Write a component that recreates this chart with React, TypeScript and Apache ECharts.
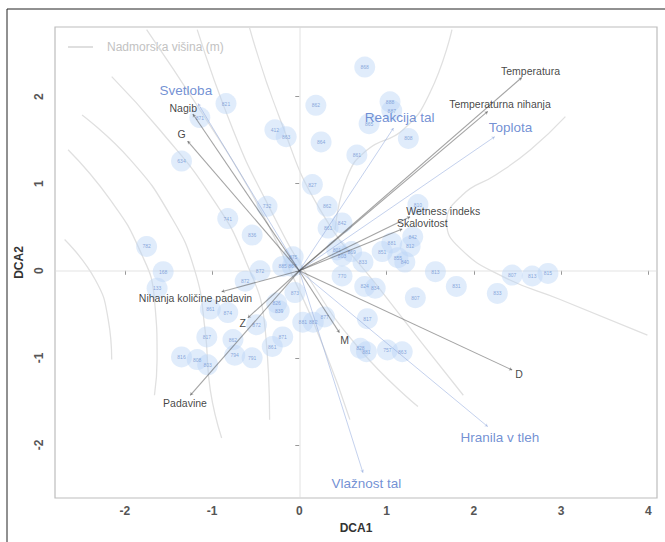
import React, { useEffect, useRef } from "react";
import * as echarts from "echarts";

// Site scores (DCA1, DCA2) and labels
const siteLabels = [
  "821","871","412","863","862","864","634","868","888","887","865","808","861","827","732","741","836","782","168","133",
  "872","875","862","842","861","881","842","812","851","855","840","833","770","813","831","807","807","813","815","833",
  "824","834","817","828","881","757","863","861","874","826","839","872","817","862","871","861","881","882","877","816",
  "808","803","794","791","885","801","803","810","873","867","869","872"
];
const siteX = [
  -0.84,-1.14,-0.28,-0.15,0.19,0.25,-1.35,0.75,1.04,1.06,0.80,1.25,0.66,0.15,-0.37,-0.82,-0.54,-1.75,-1.56,-1.63,
  -0.45,-0.07,0.32,0.49,0.33,1.06,1.30,1.27,0.95,1.13,1.21,0.73,0.49,1.56,1.80,1.33,2.44,2.67,2.85,2.27,
  0.75,0.87,0.78,0.70,0.77,1.01,1.18,-1.02,-0.82,-0.26,-0.23,-0.49,-1.06,-0.76,-0.19,-0.31,0.04,0.16,0.29,-1.35,
  -1.17,-1.05,-0.74,-0.54,-0.19,0.43,0.49,1.36,-0.05,-0.08,0.60,-0.62
];
const siteY = [
  1.92,1.76,1.62,1.54,1.90,1.48,1.26,2.34,1.94,1.84,1.69,1.52,1.33,0.99,0.74,0.60,0.41,0.28,-0.01,-0.20,
  0.00,0.16,0.74,0.55,0.49,0.32,0.39,0.28,0.22,0.15,0.10,0.10,-0.06,-0.01,-0.18,-0.31,-0.05,-0.06,-0.03,-0.26,
  -0.18,-0.20,-0.55,-0.89,-0.93,-0.91,-0.93,-0.44,-0.48,-0.37,-0.46,-0.62,-0.76,-0.79,-0.76,-0.87,-0.59,-0.59,-0.53,-0.99,
  -1.02,-1.08,-0.97,-1.00,0.05,0.24,0.17,0.76,-0.25,0.05,0.22,-0.12
];

// Environmental vectors (black)
const envNames = ["Temperatura","Temperaturna nihanja","Wetness indeks","Skalovitost","Nagib","G","Nihanja količine padavin","Z","Padavine","M","D"];
const envX = [2.55, 2.16, 1.27, 1.18, -1.22, -1.28, -0.89, -0.59, -1.25, 0.46, 2.44];
const envY = [2.22, 1.83, 0.62, 0.48, 1.80, 1.49, -0.24, -0.54, -1.43, -0.71, -1.14];
const envLabelX = [2.65, 2.30, 1.65, 1.41, -1.33, -1.35, -1.19, -0.65, -1.31, 0.52, 2.52];
const envLabelY = [2.30, 1.91, 0.69, 0.55, 1.87, 1.57, -0.31, -0.60, -1.52, -0.79, -1.18];

// Ellenberg indicator vectors (blue)
const ellNames = ["Svetloba","Reakcija tal","Toplota","Hranila v tleh","Vlažnost tal"];
const ellX = [-1.16, 1.08, 2.24, 2.16, 0.73];
const ellY = [1.92, 1.64, 1.54, -1.79, -2.32];
const ellLabelX = [-1.30, 1.15, 2.42, 2.30, 0.77];
const ellLabelY = [2.07, 1.76, 1.64, -1.92, -2.44];

// Elevation isolines (Nadmorska višina)
const contours: number[][][] = [
  [[-2.69,0.36],[-2.34,-0.10],[-2.19,-0.56],[-2.15,-1.02]],
  [[-2.65,1.39],[-2.17,0.82],[-1.83,0.24],[-1.66,-0.33],[-1.63,-1.02],[-1.66,-1.43]],
  [[-2.49,1.79],[-1.94,1.28],[-1.48,0.64],[-1.20,0.01],[-1.08,-0.68],[-1.02,-1.37],[-0.89,-1.92]],
  [[-2.15,2.23],[-1.60,1.62],[-1.02,0.87],[-0.62,0.13],[-0.39,-0.68],[-0.34,-1.71]],
  [[-1.75,2.77],[-1.14,1.85],[-0.57,0.93],[-0.11,0.01],[0.29,-0.91],[0.58,-1.71]],
  [[-1.17,2.77],[-0.76,1.62],[-0.39,0.82],[0.12,-0.10],[0.70,-0.91],[1.36,-1.56]],
  [[-0.57,2.79],[-0.22,1.74],[0.24,0.70],[0.93,-0.22],[1.88,-1.43]],
  [[1.75,2.77],[1.50,2.05],[1.19,1.62],[0.78,1.39],[0.55,1.08],[0.41,0.47]],
  [[3.05,1.77],[2.65,1.39],[2.25,1.10],[1.87,0.87],[1.69,0.56],[1.84,0.26],[2.34,-0.07],[2.99,-0.33],[3.99,-0.74]],
];

const xTicks = [-2, -1, 0, 1, 2, 3, 4];
const yTicks = [-2, -1, 0, 1, 2];
const X_MIN = -2.8, X_MAX = 4.1, Y_MIN = -2.61, Y_MAX = 2.8;

export default function App() {
  const ref = useRef<HTMLDivElement>(null);
  useEffect(() => {
    const chart = echarts.init(ref.current!, null, { renderer: "svg" });
    const font = "Liberation Sans";
    const option: any = {
      animation: false,
      backgroundColor: "#fff",
      textStyle: { fontFamily: font },
      grid: { left: 55, top: 27, right: 8, bottom: 44, show: true, borderColor: "#bdbdbd", borderWidth: 1.2 },
      xAxis: {
        type: "value", min: X_MIN, max: X_MAX,
        name: "DCA1", nameLocation: "middle", nameGap: 24,
        nameTextStyle: { fontSize: 12, fontWeight: "bold", color: "#333", fontFamily: font },
        axisLine: { show: false },
        axisTick: { show: true, length: 4, customValues: xTicks, lineStyle: { color: "#999" } },
        axisLabel: { customValues: xTicks, fontSize: 12, fontWeight: "bold", color: "#555", margin: 7, fontFamily: font },
        splitLine: { show: false },
      },
      yAxis: {
        type: "value", min: Y_MIN, max: Y_MAX,
        name: "DCA2", nameLocation: "middle", nameGap: 28, nameRotate: 90,
        nameTextStyle: { fontSize: 12, fontWeight: "bold", color: "#333", fontFamily: font },
        axisLine: { show: false },
        axisTick: { show: true, length: 4, customValues: yTicks, lineStyle: { color: "#999" } },
        axisLabel: { customValues: yTicks, rotate: 90, fontSize: 12, fontWeight: "bold", color: "#555", margin: 10, fontFamily: font },
        splitLine: { show: false },
      },
      graphic: [
        { type: "rect", shape: { x: 7, y: 9, width: 720, height: 620 }, style: { fill: "none", stroke: "#222", lineWidth: 1 }, silent: true },
        { type: "line", shape: { x1: 68, y1: 47, x2: 93, y2: 47 }, style: { stroke: "#d4d4d4", lineWidth: 1.5 } },
        { type: "text", x: 107, y: 47, style: { text: "Nadmorska višina (m)", fill: "#c2c2c2", fontSize: 12, fontFamily: font, verticalAlign: "middle" } },
      ],
      series: [
        ...contours.map((c) => ({
          type: "line", data: c, smooth: true, symbol: "none", silent: true, z: 1,
          lineStyle: { color: "#e0e0e0", width: 1.3 },
        })),
        {
          type: "lines", coordinateSystem: "cartesian2d", silent: true, z: 1,
          lineStyle: { color: "#dcdcdc", width: 1.6 },
          data: [
            { coords: [[X_MIN, 0], [X_MAX, 0]] },
            { coords: [[0, Y_MIN], [0, Y_MAX]] },
          ],
        },
        {
          type: "scatter", z: 3, symbolSize: 21,
          itemStyle: { color: "rgba(185,212,245,0.55)" },
          label: { show: true, position: "inside", fontSize: 5, color: "#6f93d2", formatter: (p: any) => p.name },
          data: siteX.map((x, i) => ({ name: siteLabels[i], value: [x, siteY[i]] })),
        },
        {
          type: "lines", coordinateSystem: "cartesian2d", z: 4, silent: true,
          symbol: ["none", "arrow"], symbolSize: 3,
          lineStyle: { color: "#8aa3dc", width: 1 },
          data: ellX.map((x, i) => ({ coords: [[0, 0], [x, ellY[i]]] })),
        },
        {
          type: "lines", coordinateSystem: "cartesian2d", z: 5, silent: true,
          symbol: ["none", "arrow"], symbolSize: 3,
          lineStyle: { color: "#4a4a4a", width: 1.1 },
          data: envX.map((x, i) => ({ coords: [[0, 0], [x, envY[i]]] })),
        },
        {
          type: "scatter", z: 6, symbolSize: 1, silent: true,
          itemStyle: { color: "rgba(0,0,0,0)" },
          label: { show: true, position: "inside", fontSize: 13.5, color: "#4f74c9", formatter: (p: any) => p.name },
          data: ellNames.map((n, i) => ({ name: n, value: [ellLabelX[i], ellLabelY[i]] })),
        },
        {
          type: "scatter", z: 7, symbolSize: 1, silent: true,
          itemStyle: { color: "rgba(0,0,0,0)" },
          label: { show: true, position: "inside", fontSize: 10.5, color: "#111", formatter: (p: any) => p.name },
          data: envNames.map((n, i) => ({ name: n, value: [envLabelX[i], envLabelY[i]] })),
        },
      ],
    };
    chart.setOption(option);
    return () => chart.dispose();
  }, []);
  return <div ref={ref} style={{ position: "absolute", left: 0, top: 0, width: 665, height: 542 }} />;
}
